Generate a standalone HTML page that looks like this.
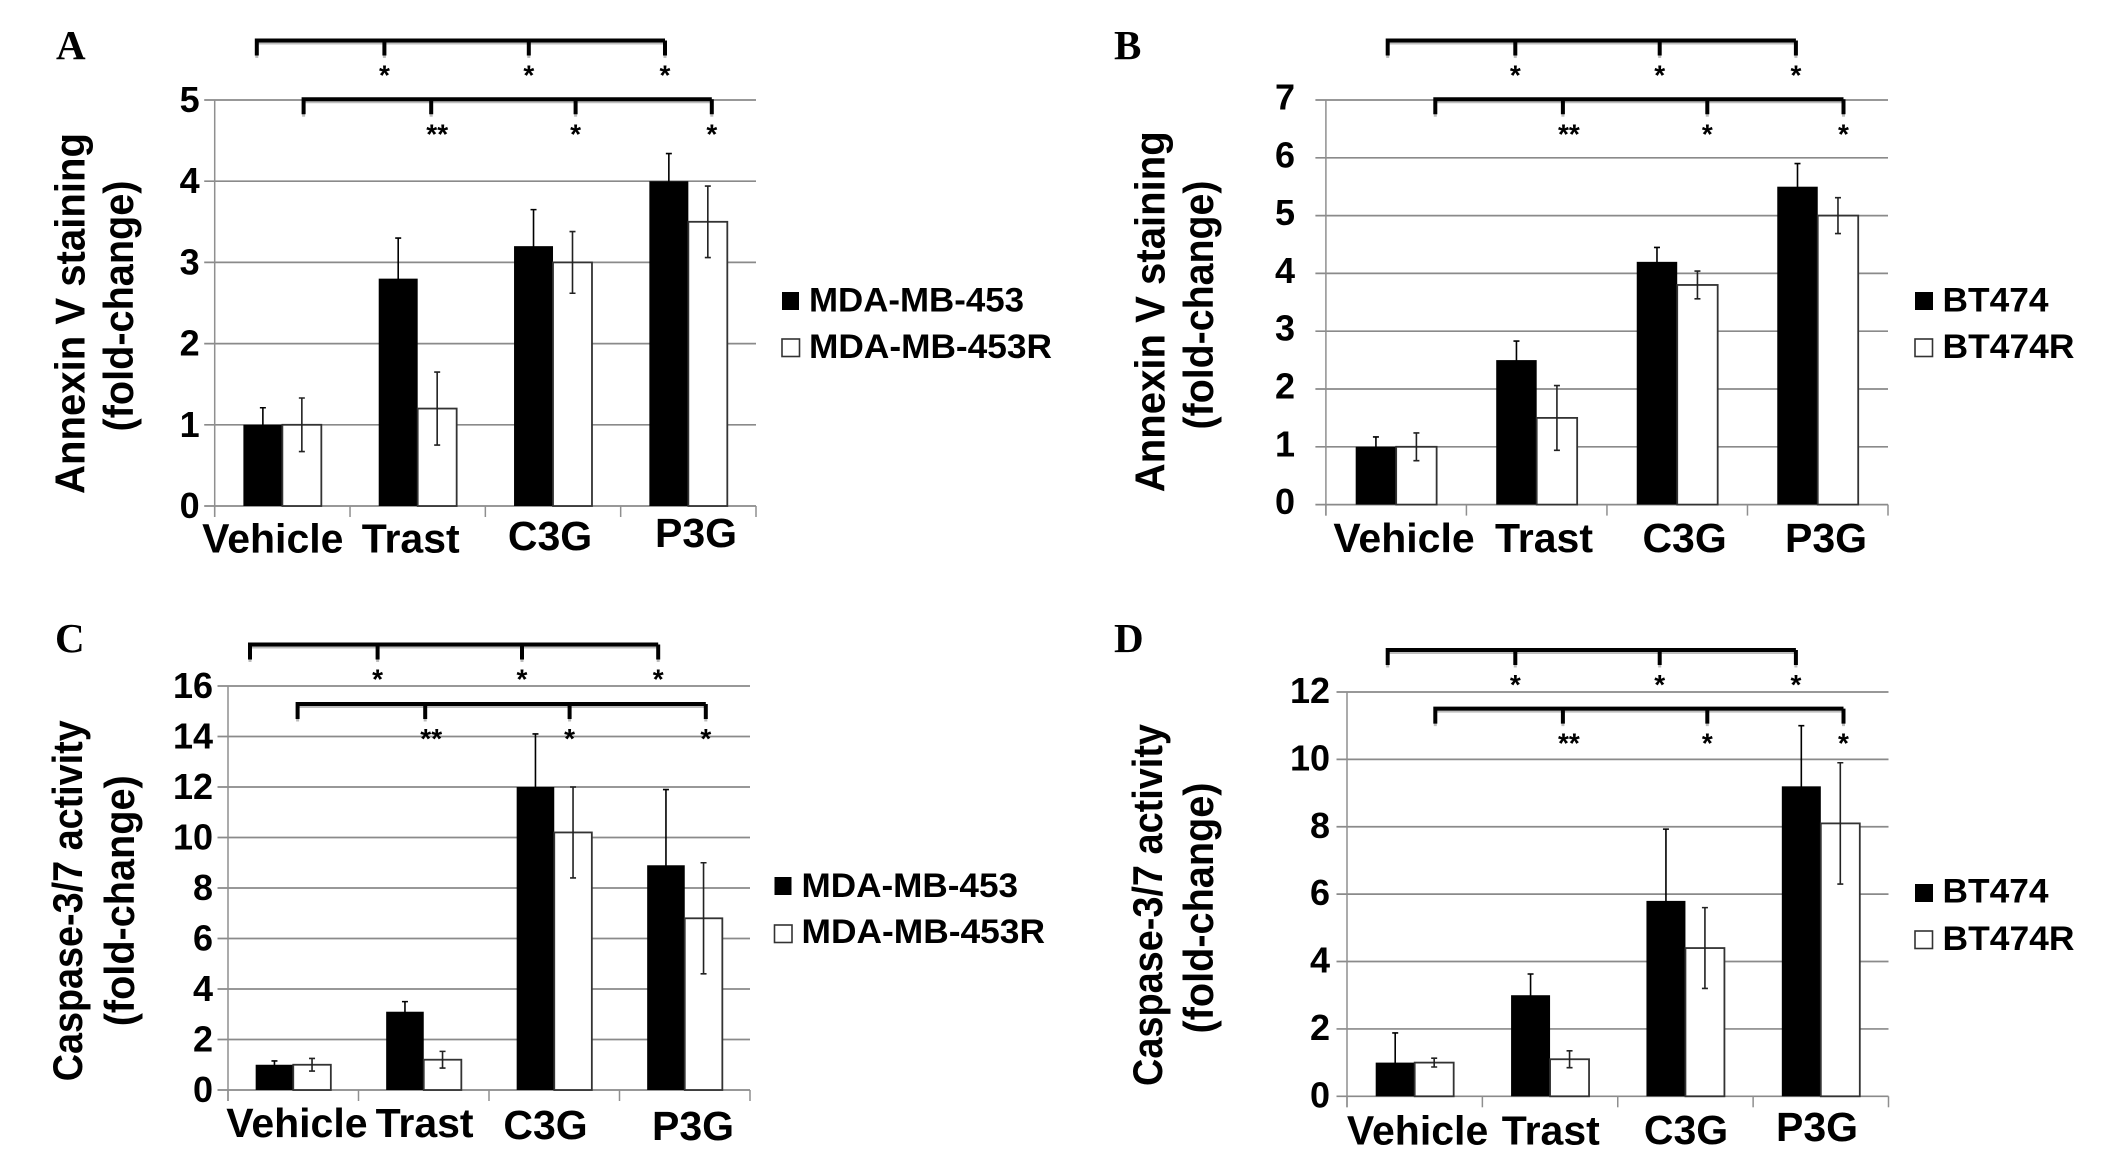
<!DOCTYPE html>
<html lang="en">
<head>
<meta charset="utf-8">
<title>Annexin V staining and Caspase-3/7 activity fold-change</title>
<style>
  html, body { margin: 0; padding: 0; background: #fff; }
  svg { display: block; }
  .panel-letter { font-family: "Liberation Serif", serif; font-weight: bold; font-size: 41px; fill: #000; }
  .sans { font-family: "Liberation Sans", sans-serif; font-weight: bold; fill: #000; }
  .y-title { font-size: 42px; }
  .legend-text { font-size: 34.5px; }
  .tick-label { font-size: 36px; }
  .cat-label { font-size: 41px; }
  .star { font-size: 28px; }
</style>
</head>
<body>
<svg id="figure" xmlns="http://www.w3.org/2000/svg" width="2126" height="1157" viewBox="0 0 2126 1157">
  <rect width="2126" height="1157" fill="#fff"/>

  <text class="panel-letter" x="56" y="59">A</text>
  <text class="panel-letter" x="1114" y="59">B</text>
  <text class="panel-letter" x="55" y="652">C</text>
  <text class="panel-letter" x="1114" y="652">D</text>

  <text class="sans y-title" transform="translate(84.5,313.5) rotate(-90)" text-anchor="middle" textLength="361" lengthAdjust="spacingAndGlyphs">Annexin V staining</text>
  <text class="sans y-title" transform="translate(133,306) rotate(-90)" text-anchor="middle" textLength="251" lengthAdjust="spacingAndGlyphs">(fold-change)</text>
  <text class="sans y-title" transform="translate(1164.5,311.7) rotate(-90)" text-anchor="middle" textLength="361" lengthAdjust="spacingAndGlyphs">Annexin V staining</text>
  <text class="sans y-title" transform="translate(1213,305) rotate(-90)" text-anchor="middle" textLength="249" lengthAdjust="spacingAndGlyphs">(fold-change)</text>
  <text class="sans y-title" transform="translate(82,900.8) rotate(-90)" text-anchor="middle" textLength="361" lengthAdjust="spacingAndGlyphs">Caspase-3/7 activity</text>
  <text class="sans y-title" transform="translate(134,900.8) rotate(-90)" text-anchor="middle" textLength="251" lengthAdjust="spacingAndGlyphs">(fold-change)</text>
  <text class="sans y-title" transform="translate(1162,905) rotate(-90)" text-anchor="middle" textLength="362" lengthAdjust="spacingAndGlyphs">Caspase-3/7 activity</text>
  <text class="sans y-title" transform="translate(1213,908) rotate(-90)" text-anchor="middle" textLength="251" lengthAdjust="spacingAndGlyphs">(fold-change)</text>

  <g>
    <rect x="782" y="292" width="17" height="18" fill="#000"/>
    <text class="sans legend-text" x="809" y="311.7" textLength="215" lengthAdjust="spacingAndGlyphs">MDA-MB-453</text>
    <rect x="782" y="339" width="17.5" height="17.5" fill="#fff" stroke="#333" stroke-width="1.6"/>
    <text class="sans legend-text" x="809" y="357.8" textLength="243" lengthAdjust="spacingAndGlyphs">MDA-MB-453R</text>
  </g>
  <g>
    <rect x="1915" y="292" width="18" height="18" fill="#000"/>
    <text class="sans legend-text" x="1942.5" y="311.7" textLength="106" lengthAdjust="spacingAndGlyphs">BT474</text>
    <rect x="1915" y="339" width="17.5" height="17.5" fill="#fff" stroke="#333" stroke-width="1.6"/>
    <text class="sans legend-text" x="1942.5" y="357.8" textLength="132" lengthAdjust="spacingAndGlyphs">BT474R</text>
  </g>
  <g>
    <rect x="774.5" y="877" width="17" height="18" fill="#000"/>
    <text class="sans legend-text" x="801.5" y="897" textLength="216.5" lengthAdjust="spacingAndGlyphs">MDA-MB-453</text>
    <rect x="774.5" y="925" width="17.5" height="17.5" fill="#fff" stroke="#333" stroke-width="1.6"/>
    <text class="sans legend-text" x="801.5" y="943.2" textLength="243.5" lengthAdjust="spacingAndGlyphs">MDA-MB-453R</text>
  </g>
  <g>
    <rect x="1915" y="884" width="18" height="18" fill="#000"/>
    <text class="sans legend-text" x="1942.5" y="902.6" textLength="106" lengthAdjust="spacingAndGlyphs">BT474</text>
    <rect x="1915" y="931" width="17.5" height="17.5" fill="#fff" stroke="#333" stroke-width="1.6"/>
    <text class="sans legend-text" x="1942.5" y="949.8" textLength="132" lengthAdjust="spacingAndGlyphs">BT474R</text>
  </g>
</svg>

<script>
const categories = ['Vehicle', 'Trast', 'C3G', 'P3G'];

const ticksAnnexinMda = ['0', '1', '2', '3', '4', '5'];
const ticksAnnexinBt = ['0', '1', '2', '3', '4', '5', '6', '7'];
const ticksCaspaseMda = ['0', '2', '4', '6', '8', '10', '12', '14', '16'];
const ticksCaspaseBt = ['0', '2', '4', '6', '8', '10', '12'];

const annexinMdaParental = [1, 2.8, 3.2, 4];
const annexinMdaResistant = [1, 1.2, 3, 3.5];
const annexinMdaParentalErr = [0.21, 0.5, 0.45, 0.34];
const annexinMdaResistantErr = [0.33, 0.45, 0.38, 0.44];

const annexinBtParental = [1, 2.5, 4.2, 5.5];
const annexinBtResistant = [1, 1.5, 3.8, 5];
const annexinBtParentalErr = [0.17, 0.33, 0.25, 0.4];
const annexinBtResistantErr = [0.24, 0.56, 0.24, 0.31];

const caspaseMdaParental = [1, 3.1, 12, 8.9];
const caspaseMdaResistant = [1, 1.2, 10.2, 6.8];
const caspaseMdaParentalErr = [0.15, 0.4, 2.1, 3.0];
const caspaseMdaResistantErr = [0.25, 0.33, 1.8, 2.2];

const caspaseBtParental = [1, 3, 5.8, 9.2];
const caspaseBtResistant = [1, 1.1, 4.4, 8.1];
const caspaseBtParentalErr = [0.88, 0.63, 2.13, 1.8];
const caspaseBtResistantErr = [0.13, 0.25, 1.2, 1.8];

const topBracketMarks = ['*', '*', '*'];
const lowerBracketMarks = ['**', '*', '*'];

const panels = [
  { id: 'a', left: 214.7, right: 756, top: 100, base: 506, tickText: ticksAnnexinMda,
    black: annexinMdaParental, white: annexinMdaResistant, blackErr: annexinMdaParentalErr, whiteErr: annexinMdaResistantErr,
    tickLabelX: 199.7, tickLen: 10.5, tickLabelDy: -1,
    catX: [272.8, 410.7, 550, 696], catY: [552.5, 552.5, 550, 547],
    b1: [256.8, 40.5], b2: [303.6, 99.3] },
  { id: 'b', left: 1325.9, right: 1888, top: 100, base: 504.6, tickText: ticksAnnexinBt,
    black: annexinBtParental, white: annexinBtResistant, blackErr: annexinBtParentalErr, whiteErr: annexinBtResistantErr,
    tickLabelX: 1295, tickLen: 10.5, tickLabelDy: -3.5,
    catX: [1404, 1544, 1684.6, 1826], catY: [552, 552, 552, 552],
    b1: [1387.7, 40.5], b2: [1435.3, 99.3] },
  { id: 'c', left: 228, right: 750, top: 686, base: 1090, tickText: ticksCaspaseMda,
    black: caspaseMdaParental, white: caspaseMdaResistant, blackErr: caspaseMdaParentalErr, whiteErr: caspaseMdaResistantErr,
    tickLabelX: 213, tickLen: 10.5, tickLabelDy: -1,
    catX: [296.9, 424.6, 545.5, 693], catY: [1137, 1137, 1139, 1140],
    b1: [250, 644.5], b2: [297.6, 704] },
  { id: 'd', left: 1347, right: 1888.5, top: 692, base: 1096.3, tickText: ticksCaspaseBt,
    black: caspaseBtParental, white: caspaseBtResistant, blackErr: caspaseBtParentalErr, whiteErr: caspaseBtResistantErr,
    tickLabelX: 1330, tickLen: 10.5, tickLabelDy: -2,
    catX: [1417.6, 1550.8, 1686, 1817], catY: [1144.5, 1144.5, 1144, 1141],
    b1: [1387.7, 650], b2: [1435.3, 708.6] }
];

const SVG_NS = 'http://www.w3.org/2000/svg';
const figure = document.getElementById('figure');

function make(tag, attrs, parent, name) {
  const el = document.createElementNS(SVG_NS, tag);
  for (const k in attrs) el.setAttribute(k, attrs[k]);
  
  
  parent.appendChild(el);
  return el;
}

function drawBracket(g, x0, y, marks, label) {
  const offs = [127.6, 272, 408.2];
  const tickBottom = y + 15;
  let d = 'M' + x0 + ' ' + tickBottom + 'V' + y + 'H' + (x0 + offs[2]);
  offs.forEach(function (o) { d += 'M' + (x0 + o) + ' ' + y + 'V' + tickBottom; });
  make('path', { d: d, fill: 'none', stroke: '#bdbdbd', 'stroke-width': 3, transform: 'translate(0,2.5)' }, g, label + '-shadow');
  make('path', { d: d, fill: 'none', stroke: '#000', 'stroke-width': 4 }, g, label);
  marks.forEach(function (m, i) {
    const shift = m.length > 1 ? 6 : 0;
    const star = make('text', { x: x0 + offs[i] + shift, y: y + 44, 'text-anchor': 'middle', 'class': 'sans star' }, g, label + '-significance-' + categories[i + 1].toLowerCase());
    star.textContent = m;
  });
}

panels.forEach(function (p) {
  const g = make('g', {}, figure, 'panel-' + p.id + '-chart');
  const maxVal = Number(p.tickText[p.tickText.length - 1]);
  const yScale = function (v) { return p.base - (v / maxVal) * (p.base - p.top); };
  const catW = (p.right - p.left) / categories.length;
  const barW = catW * 0.288;
  const catCenter = function (i) { return p.left + catW * (i + 0.5); };

  p.tickText.forEach(function (t) {
    const y = yScale(Number(t));
    make('line', { x1: p.left - p.tickLen, x2: p.right, y1: y, y2: y, stroke: '#8a8a8a', 'stroke-width': 1.7 }, g, 'gridline-' + t);
    const lab = make('text', { x: p.tickLabelX, y: y + 13 + p.tickLabelDy, 'text-anchor': 'end', 'class': 'sans tick-label' }, g, 'y-tick-label-' + t);
    lab.textContent = t;
  });

  make('line', { x1: p.left, x2: p.left, y1: p.top, y2: p.base + 11, stroke: '#8f8f8f', 'stroke-width': 1.5 }, g, 'y-axis-line');

  for (let i = 0; i <= categories.length; i++) {
    const x = p.left + catW * i;
    make('line', { x1: x, x2: x, y1: p.base, y2: p.base + 11, stroke: '#8f8f8f', 'stroke-width': 1.5 }, g, 'x-axis-tick-' + i);
  }

  categories.forEach(function (c, i) {
    const key = c.toLowerCase();
    const cx = catCenter(i);
    const by = yScale(p.black[i]);
    const wy = yScale(p.white[i]);
    make('rect', { x: cx - barW, y: by, width: barW, height: p.base - by, fill: '#000' }, g, 'bar-parental-' + key);
    make('rect', { x: cx, y: wy, width: barW, height: p.base - wy, fill: '#fff', stroke: '#333', 'stroke-width': 1.8 }, g, 'bar-resistant-' + key);

    [[cx - barW / 2, p.black[i], p.blackErr[i], 'parental', '#000'], [cx + barW / 2, p.white[i], p.whiteErr[i], 'resistant', '#222']].forEach(function (e) {
      const hi = yScale(e[1] + e[2]);
      const lo = yScale(e[1] - e[2]);
      const d = 'M' + e[0] + ' ' + lo + 'V' + hi + 'M' + (e[0] - 3) + ' ' + hi + 'H' + (e[0] + 3) + 'M' + (e[0] - 3) + ' ' + lo + 'H' + (e[0] + 3);
      make('path', { d: d, fill: 'none', stroke: e[4], 'stroke-width': 1.6 }, g, 'error-bar-' + e[3] + '-' + key);
    });

    const lab = make('text', { x: p.catX[i], y: p.catY[i], 'text-anchor': 'middle', 'class': 'sans cat-label' }, g, 'x-category-label-' + key);
    lab.textContent = c;
  });

  drawBracket(g, p.b1[0], p.b1[1], topBracketMarks, 'upper-significance-bracket');
  drawBracket(g, p.b2[0], p.b2[1], lowerBracketMarks, 'lower-significance-bracket');
});
</script>
</body>
</html>
